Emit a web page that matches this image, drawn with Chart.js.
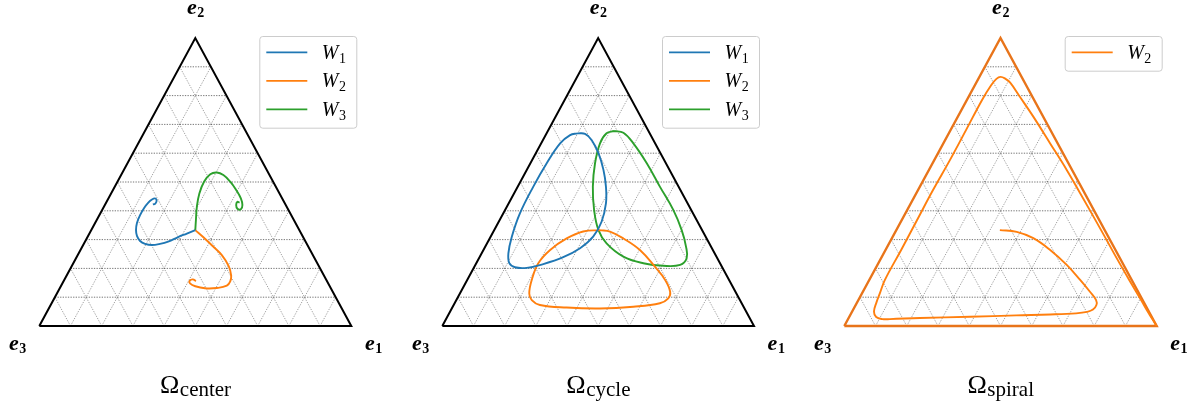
<!DOCTYPE html>
<html><head><meta charset="utf-8">
<script src="https://cdn.jsdelivr.net/npm/chart.js@4/dist/chart.umd.min.js"></script>
<style>
html,body{margin:0;padding:0;background:#fff;}
#wrap{position:relative;width:1195px;height:408px;overflow:hidden;}
canvas{position:absolute;top:0;}
</style></head><body>
<div id="wrap">
<canvas id="c0" width="400" height="408" style="left:0px"></canvas>
<canvas id="c1" width="400" height="408" style="left:400px"></canvas>
<canvas id="c2" width="395" height="408" style="left:800px"></canvas>
</div>
<script>
// ---- DATA (simplex plane coordinates: x along e3 -> e1, y = share of e2) ----
const gridLevels = [0.1,0.2,0.3,0.4,0.5,0.6,0.7,0.8,0.9];
const vertexLabels = ['1','2','3'];          // e1, e2, e3
const panelTitles = ['center','cycle','spiral'];
const seriesNames = ['1','2','3'];            // W1, W2, W3

const centerW1 = [[0.500,0.333],[0.473,0.321],[0.445,0.309],[0.413,0.293],[0.387,0.285],[0.361,0.281],[0.339,0.285],[0.323,0.295],[0.313,0.313],[0.310,0.333],[0.313,0.358],[0.323,0.385],[0.336,0.410],[0.348,0.427],[0.361,0.439],[0.371,0.443],[0.376,0.436],[0.372,0.425],[0.364,0.422]];
const centerW2 = [[0.500,0.333],[0.526,0.308],[0.558,0.275],[0.585,0.246],[0.607,0.208],[0.615,0.175],[0.612,0.155],[0.601,0.140],[0.569,0.132],[0.531,0.131],[0.500,0.138],[0.483,0.148],[0.482,0.157],[0.492,0.162],[0.502,0.156]];
const centerW3 = [[0.500,0.333],[0.502,0.368],[0.505,0.414],[0.513,0.460],[0.528,0.501],[0.548,0.527],[0.569,0.533],[0.590,0.524],[0.612,0.501],[0.631,0.472],[0.646,0.443],[0.651,0.420],[0.646,0.405],[0.635,0.407],[0.631,0.420],[0.635,0.431],[0.642,0.428]];

const cycleW1 = [[0.434,0.669],[0.410,0.663],[0.378,0.634],[0.335,0.565],[0.292,0.484],[0.249,0.391],[0.223,0.310],[0.212,0.252],[0.215,0.218],[0.233,0.204],[0.271,0.202],[0.324,0.215],[0.388,0.239],[0.442,0.270],[0.484,0.310],[0.511,0.362],[0.525,0.426],[0.525,0.484],[0.517,0.542],[0.501,0.600],[0.479,0.646],[0.458,0.667],[0.434,0.669]];
const cycleW2 = [[0.506,0.333],[0.452,0.328],[0.399,0.304],[0.346,0.264],[0.308,0.218],[0.287,0.160],[0.279,0.113],[0.287,0.090],[0.313,0.073],[0.399,0.064],[0.506,0.061],[0.613,0.067],[0.698,0.079],[0.725,0.096],[0.731,0.119],[0.715,0.160],[0.682,0.206],[0.634,0.264],[0.581,0.304],[0.538,0.328],[0.506,0.333]];
const cycleW3 = [[0.551,0.677],[0.527,0.669],[0.506,0.634],[0.490,0.565],[0.483,0.484],[0.487,0.403],[0.501,0.333],[0.527,0.287],[0.581,0.241],[0.645,0.218],[0.709,0.209],[0.763,0.212],[0.784,0.235],[0.782,0.275],[0.768,0.333],[0.741,0.403],[0.698,0.484],[0.656,0.565],[0.613,0.634],[0.581,0.671],[0.551,0.677]];

const spiralW2 = [[0.498,0.333],[0.552,0.327],[0.605,0.305],[0.659,0.264],[0.712,0.212],[0.755,0.160],[0.787,0.118],[0.806,0.090],[0.807,0.073],[0.796,0.057],[0.777,0.049],[0.742,0.044],[0.659,0.040],[0.550,0.037],[0.402,0.032],[0.242,0.028],[0.146,0.024],[0.122,0.024],[0.102,0.031],[0.095,0.050],[0.103,0.082],[0.114,0.114],[0.130,0.160],[0.182,0.264],[0.233,0.368],[0.284,0.472],[0.338,0.576],[0.390,0.681],[0.441,0.785],[0.470,0.836],[0.487,0.858],[0.500,0.865],[0.515,0.859],[0.531,0.845],[0.562,0.796],[0.605,0.727],[0.659,0.634],[0.712,0.542],[0.755,0.461],[0.822,0.333],[0.866,0.247],[0.912,0.160],[0.950,0.090],[0.974,0.045],[0.988,0.021],[1.000,0.000]];

// ---- STYLE ----
const BLUE='#1f77b4', ORANGE='#ff7f0e', GREEN='#2ca02c';
const SERIF='"Liberation Serif","DejaVu Serif",serif';

function pts(a){ return a.map(p=>({x:p[0],y:p[1]})); }
// simplex vertices in plane coordinates
const V = {e3:[0,0], e1:[1,0], e2:[0.5,1]};

function gridSets(){
  const ds=[];
  const base={borderWidth:0.8,borderDash:[1.3,1.3],pointRadius:0,showLine:true,tension:0,clip:false,order:5};
  const hz=Object.assign({borderColor:'rgba(40,40,40,0.8)'},base);
  const dg=Object.assign({borderColor:'rgba(60,60,60,0.6)'},base);
  gridLevels.forEach(t=>{
    ds.push(Object.assign({data:pts([[t/2,t],[1-t/2,t]])},hz));
    ds.push(Object.assign({data:pts([[t,0],[t+(1-t)/2,1-t]])},dg));
    ds.push(Object.assign({data:pts([[1-t,0],[(1-t)/2,1-t]])},dg));
  });
  return ds;
}
function frameSet(color,width){
  return {data:pts([V.e3,V.e1,V.e2,V.e3]),borderColor:color,borderWidth:width,pointRadius:0,showLine:true,tension:0,clip:false,order:1,borderJoinStyle:'miter'};
}
function curveSet(arr,color,name){
  return {data:pts(arr),borderColor:color,borderWidth:1.9,pointRadius:0,showLine:true,tension:0.4,clip:false,order:0,legendName:name};
}

function drawSub(ctx,base,sub,x,y,bf,sf,dy,align){
  ctx.font=bf; const w1=ctx.measureText(base).width;
  ctx.font=sf; const w2=ctx.measureText(sub).width;
  let x0=x; if(align==='center') x0=x-(w1+w2)/2;
  ctx.textAlign='left'; ctx.textBaseline='alphabetic'; ctx.fillStyle='#000';
  ctx.font=bf; ctx.fillText(base,x0,y);
  ctx.font=sf; ctx.fillText(sub,x0+w1+0.5,y+dy);
}

const decor = {
  id:'decor',
  afterDatasetsDraw(chart){
    const ctx=chart.ctx, xs=chart.scales.x, ys=chart.scales.y;
    const P=v=>[xs.getPixelForValue(v[0]),ys.getPixelForValue(v[1])];
    const bf='bold italic 22px '+SERIF, sf='bold 14px '+SERIF;
    ctx.save();
    let p=P(V.e2); drawSub(ctx,'e',vertexLabels[1],p[0],p[1]-24,bf,sf,3,'center');
    p=P(V.e3); drawSub(ctx,'e',vertexLabels[2],p[0]-22,p[1]+24,bf,sf,3,'center');
    p=P(V.e1); drawSub(ctx,'e',vertexLabels[0],p[0]+22,p[1]+24,bf,sf,3,'center');
    // title
    const t=chart.options.plugins.decor.title;
    const cx=(xs.getPixelForValue(0)+xs.getPixelForValue(1))/2;
    drawSub(ctx,'\u03A9',t,cx,ys.getPixelForValue(0)+67,'26px '+SERIF,'21px '+SERIF,3,'center');
    // legend
    const items=chart.data.datasets.filter(d=>d.legendName);
    const right=xs.getPixelForValue(1)+5, top=ys.getPixelForValue(1)-2;
    const bw=97, bh=items.length===1?34.7:91.7;
    const bx=right-bw;
    ctx.beginPath();
    if(ctx.roundRect) ctx.roundRect(bx+0.5,top+0.5,bw,bh,3); else ctx.rect(bx+0.5,top+0.5,bw,bh);
    ctx.fillStyle='rgba(255,255,255,0.8)'; ctx.fill();
    ctx.strokeStyle='#cccccc'; ctx.lineWidth=1; ctx.stroke();
    items.forEach((d,i)=>{
      const ly=top+16.3+i*28.5;
      ctx.beginPath(); ctx.moveTo(bx+7,ly); ctx.lineTo(bx+48,ly);
      ctx.strokeStyle=d.borderColor; ctx.lineWidth=1.8; ctx.stroke();
      drawSub(ctx,'W',d.legendName,bx+62.5,ly+6.5,'italic 20px '+SERIF,'14px '+SERIF,4,'left');
    });
    ctx.restore();
  }
};

function make(id,pad,datasets,title){
  return new Chart(document.getElementById(id),{
    type:'scatter',
    data:{datasets},
    options:{
      responsive:false,animation:false,
      layout:{padding:pad},
      scales:{x:{type:'linear',min:0,max:1,display:false},y:{type:'linear',min:0,max:1,display:false}},
      plugins:{legend:{display:false},tooltip:{enabled:false},decor:{title}},
      elements:{line:{capBezierPoints:true}}
    },
    plugins:[decor]
  });
}

make('c0',{left:39.3,right:48.7,top:38,bottom:82},
  [...gridSets(),frameSet('#000',2),curveSet(centerW1,BLUE,seriesNames[0]),curveSet(centerW2,ORANGE,seriesNames[1]),curveSet(centerW3,GREEN,seriesNames[2])],panelTitles[0]);
make('c1',{left:42.3,right:46,top:38,bottom:82},
  [...gridSets(),frameSet('#000',2),curveSet(cycleW1,BLUE,seriesNames[0]),curveSet(cycleW2,ORANGE,seriesNames[1]),curveSet(cycleW3,GREEN,seriesNames[2])],panelTitles[1]);
make('c2',{left:44.3,right:38.3,top:38,bottom:82},
  [...gridSets(),frameSet('#e8741a',2.4),curveSet(spiralW2,ORANGE,seriesNames[1])],panelTitles[2]);
</script>
</body></html>
